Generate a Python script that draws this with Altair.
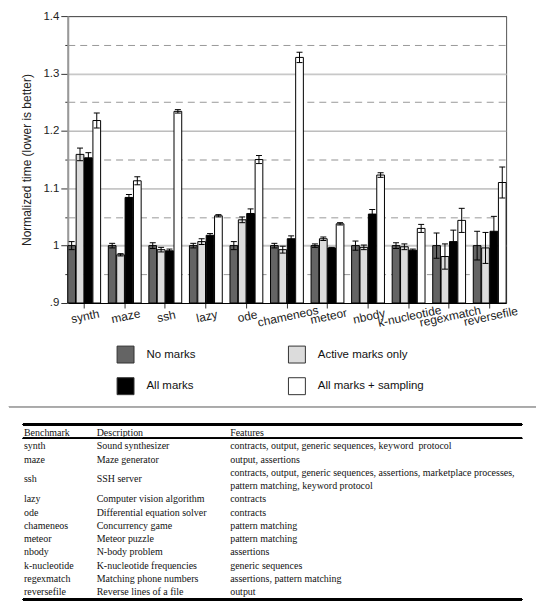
import altair as alt
import pandas as pd

# ---------------- data ----------------
benchmarks = ["synth", "maze", "ssh", "lazy", "ode", "chameneos", "meteor",
              "nbody", "k-nucleotide", "regexmatch", "reversefile"]
series = ["No marks", "Active marks only", "All marks", "All marks + sampling"]

no_marks = [1.0, 1.0, 1.0, 1.0, 1.0, 1.0, 1.0, 1.0, 1.0, 1.0, 1.0]
no_marks_err = [0.007, 0.004, 0.005, 0.004, 0.007, 0.004, 0.003, 0.008, 0.005, 0.022, 0.025]
active = [1.159, 0.984, 0.993, 1.007, 1.045, 0.993, 1.012, 0.997, 0.998, 0.981, 0.996]
active_err = [0.011, 0.002, 0.004, 0.005, 0.005, 0.006, 0.003, 0.004, 0.005, 0.022, 0.027]
all_marks = [1.153, 1.084, 0.991, 1.018, 1.056, 1.012, 0.996, 1.055, 0.992, 1.007, 1.025]
all_marks_err = [0.009, 0.005, 0.003, 0.003, 0.008, 0.005, 0.001, 0.008, 0.002, 0.020, 0.026]
sampling = [1.218, 1.113, 1.234, 1.052, 1.150, 1.328, 1.038, 1.123, 1.030, 1.044, 1.110]
sampling_err = [0.013, 0.007, 0.003, 0.002, 0.007, 0.009, 0.002, 0.004, 0.007, 0.021, 0.027]

y_ticks = [0.9, 0.95, 1.0, 1.05, 1.1, 1.15, 1.2, 1.25, 1.3, 1.35, 1.4]

table_header = ["Benchmark", "Description", "Features"]
descriptions = ["Sound synthesizer", "Maze generator", "SSH server",
                "Computer vision algorithm", "Differential equation solver",
                "Concurrency game", "Meteor puzzle", "N-body problem",
                "K-nucleotide frequencies", "Matching phone numbers",
                "Reverse lines of a file"]
features = [
    "contracts, output, generic sequences, keyword\u00a0 protocol",
    "output, assertions",
    "contracts, output, generic sequences, assertions, marketplace processes,\npattern matching, keyword protocol",
    "contracts",
    "contracts",
    "pattern matching",
    "pattern matching",
    "assertions",
    "generic sequences",
    "assertions, pattern matching",
    "output",
]

colors = ["#646464", "#dcdcdc", "#000000", "#ffffff"]

# ---------------- bar data ----------------
rows = []
for s, vals, errs in zip(series, [no_marks, active, all_marks, sampling],
                         [no_marks_err, active_err, all_marks_err, sampling_err]):
    for b, v, e in zip(benchmarks, vals, errs):
        rows.append({"benchmark": b, "series": s, "value": v, "lo": v - e, "hi": v + e})
df = pd.DataFrame(rows)

SANS = "Liberation Sans"
SERIF = "Liberation Serif"

emph = "abs(datum.value-1)<0.001 || abs(datum.value-1.15)<0.001 || abs(datum.value-1.3)<0.001"
top = "datum.value > 1.39"
half = "round(datum.value*100) % 10 == 5"

x_enc = alt.X("benchmark:N", sort=benchmarks,
              scale=alt.Scale(paddingInner=0.19, paddingOuter=0),
              axis=alt.Axis(title=None, labelAngle=-12, labelAlign="center",
                            labelBaseline="top", labelFont=SANS, labelFontSize=12,
                            labelColor="#222", tickColor="#333", tickSize=5,
                            labelPadding=3, domainColor="#000", domainWidth=1,
                            grid=False))
xoff = alt.XOffset("series:N", sort=series,
                   scale=alt.Scale(paddingInner=0.08, paddingOuter=0))

y_scale = alt.Scale(domain=[0.9, 1.4], zero=False, nice=False)
y_axis = alt.Axis(
    values=y_ticks,
    title="Normalized time (lower is better)",
    titleFont=SANS, titleFontSize=12, titleFontWeight="normal", titleColor="#222",
    titlePadding=9,
    labelExpr="round(datum.value*100) % 10 == 5 ? '' : (abs(datum.value-1)<0.001 ? '1' : (datum.value < 0.91 ? '.9' : format(datum.value, '.1f')))",
    labelFont=SANS, labelFontSize=11.5, labelColor="#222", labelPadding=2,
    labelOverlap=False,
    tickColor="#333",
    tickSize={"condition": {"test": half, "value": 3}, "value": 7},
    domainColor="#999999", domainWidth=2,
    grid=True,
    gridColor={"condition": [{"test": top, "value": "#555555"},
                             {"test": emph, "value": "#c8c8c8"}],
               "value": "#9a9a9a"},
    gridWidth={"condition": {"test": emph, "value": 2}, "value": 1},
    gridDash={"condition": {"test": half, "value": [7, 5]}, "value": []},
)

legend = alt.Legend(orient="none", legendX=49, legendY=330.5, columns=2,
                    direction="horizontal", title=None,
                    symbolType="square", symbolSize=289, symbolStrokeColor="#333",
                    symbolStrokeWidth=1, symbolOpacity=1,
                    labelFont=SANS, labelFontSize=11.5, labelColor="#111",
                    labelOffset=12, rowPadding=10, columnPadding=90, padding=0,
                    labelExpr="datum.label == 'Active marks only' ? '\u00a0\u00a0\u00a0Active marks only' : datum.label")

y_title = "Normalized time (lower is better)"

base = alt.Chart(df)
bars = base.mark_bar(stroke="black", strokeWidth=1).encode(
    x=x_enc, xOffset=xoff,
    y=alt.Y("value:Q", scale=y_scale, axis=y_axis, title=y_title),
    y2=alt.datum(0.9),
    color=alt.Color("series:N", sort=series,
                    scale=alt.Scale(domain=series, range=colors), legend=legend),
)
err = base.mark_rule(color="black", strokeWidth=1).encode(
    x=x_enc, xOffset=xoff,
    y=alt.Y("lo:Q", scale=y_scale, axis=y_axis, title=y_title), y2="hi:Q")
cap_lo = base.mark_tick(color="black", thickness=1, size=6, opacity=1).encode(
    x=x_enc, xOffset=xoff,
    y=alt.Y("lo:Q", scale=y_scale, axis=y_axis, title=y_title))
cap_hi = base.mark_tick(color="black", thickness=1, size=6, opacity=1).encode(
    x=x_enc, xOffset=xoff,
    y=alt.Y("hi:Q", scale=y_scale, axis=y_axis, title=y_title))

chart1 = alt.layer(bars, err, cap_lo, cap_hi).properties(
    width=440, height=288,
    view=alt.ViewBackground(stroke="#555555", strokeWidth=1))

# ---------------- table ----------------
trows = []
for ci, h in enumerate(table_header):
    trows.append({"ci": ci, "line": 0, "text": h})
line = 1
for b, d, f in zip(benchmarks, descriptions, features):
    flines = f.split("\n")
    center = line + (len(flines) - 1) / 2
    trows.append({"ci": 0, "line": center, "text": b})
    trows.append({"ci": 1, "line": center, "text": d})
    for i, fl in enumerate(flines):
        trows.append({"ci": 2, "line": line + i, "text": fl})
    line += len(flines)
tdf = pd.DataFrame(trows)

tx_scale = alt.Scale(domain=[0, 1, 2], range=[-44, 29, 163])
ty_scale = alt.Scale(domain=[-2, 12.55], range=[0, 193.5], zero=False, nice=False)

tbase = alt.Chart(tdf)
ttext = tbase.mark_text(align="left", baseline="middle", font=SERIF, fontSize=10,
                        color="#111").encode(
    x=alt.X("ci:Q", scale=tx_scale, axis=None),
    y=alt.Y("line:Q", scale=ty_scale, axis=None),
    text="text:N")

def hrule(v, color, w, x0, x1):
    return tbase.mark_rule(color=color, strokeWidth=w).encode(
        x=alt.value(x0), x2=alt.value(x1),
        y=alt.Y(datum=v, scale=ty_scale, axis=None))

separator = hrule(-2, "#aaaaaa", 1, -59, 470)
top_rule = hrule(-0.65, "#000000", 1.5, -45, 456)
head_rule = hrule(0.4, "#000000", 0.8, -45, 456)
bottom_rule = hrule(12.55, "#000000", 1.5, -45, 456)

table = alt.layer(separator, top_rule, head_rule, bottom_rule, ttext).properties(
    width=440, height=193.5,
    view=alt.ViewBackground(stroke="transparent"))

chart = alt.vconcat(chart1, table, spacing=104, bounds="flush").properties(
    padding=0
).configure_view(stroke="transparent").resolve_scale(y="independent", x="independent")

chart.save("out.html", embed_options={"renderer": "svg", "actions": False})
